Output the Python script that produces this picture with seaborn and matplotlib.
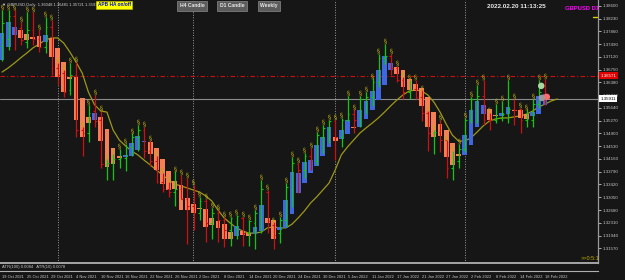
import numpy as np
import matplotlib
matplotlib.use("Agg")
import matplotlib.pyplot as plt
import seaborn as sns

# ---------------- data ----------------
bar_open = [1.3745,1.3765,1.3830,1.3795,1.3755,1.3790,1.3765,1.3740,1.3800,1.3680,
            1.3665,1.3615,1.3660,1.3500,1.3490,1.3555,1.3530,1.3400,1.3405,1.3415,
            1.3420,1.3450,1.3480,1.3500,1.3440,1.3410,1.3350,1.3330,1.3320,1.3330,
            1.3300,1.3280,1.3260,1.3295,1.3230,1.3260,1.3240,1.3210,1.3220,1.3245,
            1.3200,1.3230,1.3250,1.3320,1.3225,1.3200,1.3240,1.3330,1.3400,1.3385,
            1.3425,1.3410,1.3480,1.3500,1.3525,1.3480,1.3530,1.3545,1.3535,1.3590,
            1.3595,1.3640,1.3710,1.3715,1.3680,1.3645,1.3610,1.3620,1.3595,1.3550,
            1.3490,1.3495,1.3470,1.3390,1.3410,1.3445,1.3530,1.3590,1.3600,1.3530,
            1.3530,1.3535,1.3545,1.3560,1.3560,1.3530,1.3530,1.3575,1.3605]
bar_high = [1.3848,1.3848,1.3850,1.3813,1.3842,1.3842,1.3790,1.3828,1.3819,1.3694,
            1.3674,1.3694,1.3697,1.3510,1.3573,1.3602,1.3555,1.3415,1.3430,1.3445,
            1.3460,1.3490,1.3515,1.3510,1.3470,1.3425,1.3375,1.3350,1.3380,1.3370,
            1.3361,1.3341,1.3306,1.3300,1.3274,1.3268,1.3248,1.3248,1.3253,1.3248,
            1.3239,1.3268,1.3355,1.3326,1.3232,1.3248,1.3346,1.3422,1.3404,1.3433,
            1.3448,1.3494,1.3515,1.3530,1.3530,1.3535,1.3600,1.3560,1.3600,1.3610,
            1.3650,1.3720,1.3750,1.3720,1.3685,1.3655,1.3645,1.3645,1.3615,1.3555,
            1.3500,1.3530,1.3470,1.3440,1.3460,1.3535,1.3595,1.3630,1.3645,1.3550,
            1.3575,1.3585,1.3645,1.3590,1.3565,1.3560,1.3590,1.3645,1.3648]
bar_low = [1.3700,1.3732,1.3732,1.3747,1.3738,1.3747,1.3726,1.3723,1.3660,1.3630,
           1.3596,1.3601,1.3480,1.3425,1.3465,1.3509,1.3390,1.3355,1.3355,1.3390,
           1.3380,1.3425,1.3440,1.3420,1.3395,1.3345,1.3320,1.3305,1.3280,1.3300,
           1.3170,1.3210,1.3239,1.3175,1.3183,1.3175,1.3160,1.3165,1.3183,1.3163,
           1.3163,1.3155,1.3201,1.3201,1.3155,1.3172,1.3219,1.3277,1.3317,1.3361,
           1.3384,1.3398,1.3433,1.3462,1.3413,1.3450,1.3525,1.3490,1.3510,1.3545,
           1.3570,1.3625,1.3690,1.3660,1.3640,1.3590,1.3590,1.3590,1.3525,1.3440,
           1.3430,1.3435,1.3360,1.3355,1.3390,1.3435,1.3520,1.3520,1.3515,1.3500,
           1.3520,1.3525,1.3520,1.3515,1.3490,1.3510,1.3510,1.3565,1.3572]
bar_close = [1.3810,1.3830,1.3790,1.3760,1.3790,1.3765,1.3740,1.3800,1.3680,1.3660,
             1.3610,1.3660,1.3500,1.3490,1.3550,1.3525,1.3400,1.3405,1.3415,1.3420,
             1.3450,1.3480,1.3500,1.3440,1.3410,1.3350,1.3330,1.3320,1.3330,1.3300,
             1.3280,1.3260,1.3295,1.3230,1.3260,1.3240,1.3210,1.3245,1.3250,1.3200,
             1.3235,1.3260,1.3330,1.3235,1.3195,1.3240,1.3335,1.3405,1.3385,1.3425,
             1.3410,1.3485,1.3505,1.3525,1.3480,1.3530,1.3545,1.3530,1.3590,1.3595,
             1.3640,1.3710,1.3715,1.3680,1.3645,1.3610,1.3620,1.3595,1.3550,1.3490,
             1.3495,1.3470,1.3390,1.3410,1.3445,1.3530,1.3590,1.3600,1.3530,1.3528,
             1.3535,1.3545,1.3560,1.3558,1.3530,1.3532,1.3575,1.3610,1.3591]
ha_open = [1.3703,1.3742,1.3776,1.3790,1.3778,1.3770,1.3773,1.3755,1.3767,1.3738,
           1.3697,1.3654,1.3654,1.3592,1.3537,1.3528,1.3538,1.3504,1.3449,1.3425,
           1.3422,1.3425,1.3443,1.3464,1.3466,1.3448,1.3416,1.3380,1.3353,1.3340,
           1.3304,1.3286,1.3273,1.3272,1.3245,1.3235,1.3226,1.3204,1.3194,1.3208,
           1.3202,1.3197,1.3208,1.3245,1.3238,1.3211,1.3215,1.3256,1.3317,1.3346,
           1.3376,1.3395,1.3425,1.3452,1.3481,1.3474,1.3487,1.3509,1.3508,1.3533,
           1.3559,1.3586,1.3630,1.3673,1.3684,1.3673,1.3649,1.3632,1.3623,1.3597,
           1.3553,1.3516,1.3500,1.3461,1.3430,1.3428,1.3457,1.3508,1.3547,1.3560,
           1.3544,1.3542,1.3545,1.3557,1.3557,1.3546,1.3540,1.3546,1.3573]
ha_close = [1.3781,1.3813,1.3799,1.3767,1.3761,1.3764,1.3741,1.3775,1.3712,1.3654,
            1.3610,1.3648,1.3530,1.3481,1.3519,1.3549,1.3469,1.3394,1.3401,1.3418,
            1.3428,1.3461,1.3484,1.3468,1.3429,1.3383,1.3344,1.3326,1.3328,1.3268,
            1.3268,1.3259,1.3270,1.3219,1.3225,1.3216,1.3183,1.3184,1.3222,1.3196,
            1.3193,1.3219,1.3282,1.3230,1.3183,1.3220,1.3297,1.3378,1.3375,1.3407,
            1.3413,1.3456,1.3479,1.3509,1.3468,1.3500,1.3530,1.3506,1.3559,1.3585,
            1.3614,1.3674,1.3716,1.3694,1.3663,1.3625,1.3616,1.3613,1.3571,1.3509,
            1.3479,1.3483,1.3423,1.3399,1.3426,1.3486,1.3559,1.3585,1.3573,1.3528,
            1.3540,1.3548,1.3568,1.3556,1.3535,1.3533,1.3551,1.3599,1.3605]
ma_line = [1.3668,1.3680,1.3694,1.3709,1.3723,1.3738,1.3749,1.3761,1.3767,1.3767,
           1.3752,1.3726,1.3697,1.3665,1.3610,1.3573,1.3555,1.3552,1.3500,1.3471,
           1.3454,1.3439,1.3428,1.3413,1.3399,1.3384,1.3370,1.3355,1.3343,1.3338,
           1.3332,1.3326,1.3320,1.3309,1.3294,1.3268,1.3245,1.3230,1.3216,1.3207,
           1.3201,1.3201,1.3204,1.3216,1.3219,1.3216,1.3216,1.3227,1.3245,1.3265,
           1.3288,1.3306,1.3326,1.3346,1.3384,1.3428,1.3451,1.3471,1.3491,1.3506,
           1.3520,1.3535,1.3552,1.3570,1.3587,1.3602,1.3613,1.3616,1.3613,1.3602,
           1.3581,1.3552,1.3517,1.3485,1.3468,1.3468,1.3477,1.3494,1.3512,1.3526,
           1.3532,1.3535,1.3535,1.3538,1.3541,1.3546,1.3555,1.3567,1.3575,1.3584,
           1.3590]

date_tick_bars = list(range(0, 89, 4))
date_tick_labels = ["19 Oct 2021", "25 Oct 2021", "29 Oct 2021", "4 Nov 2021", "10 Nov 2021",
                    "16 Nov 2021", "22 Nov 2021", "26 Nov 2021", "2 Dec 2021", "8 Dec 2021",
                    "14 Dec 2021", "20 Dec 2021", "24 Dec 2021", "30 Dec 2021", "5 Jan 2022",
                    "11 Jan 2022", "17 Jan 2022", "21 Jan 2022", "27 Jan 2022", "2 Feb 2022",
                    "8 Feb 2022", "14 Feb 2022", "18 Feb 2022"]
month_sep_bars = [9, 31, 54, 75]
price_ticks = [1.38600, 1.38230, 1.37860, 1.37490, 1.37120, 1.36750, 1.36380, 1.36010,
               1.35640, 1.35270, 1.34900, 1.34530, 1.34160, 1.33790, 1.33420, 1.33050,
               1.32680, 1.32310, 1.31940, 1.31570]
level_red = 1.36571
last_price = 1.35911
level_yellow = 1.3828
pivot_bars = [87.4, 88.3, 87.5]
pivot_prices = [1.3628, 1.3596, 1.3593]
pivot_colors = ["#a8d8a0", "#ff6b6b", "#9a9a9a"]

# ---------------- style ----------------
BG = "#161616"
sns.set_theme(style="dark")
plt.rcParams["font.family"] = ["Liberation Sans", "DejaVu Sans"]
plt.rcParams["axes.facecolor"] = BG
plt.rcParams["figure.facecolor"] = BG

fig = plt.figure(figsize=(6.25, 2.8), dpi=100)
W, H = 625.0, 280.0
ax = fig.add_axes([0, 1 - 263 / H, 598 / W, 263 / H])
sub = fig.add_axes([0, 1 - 271 / H, 598 / W, 8 / H])
for a in (ax, sub):
    a.set_facecolor(BG)

x = np.arange(len(ha_open))
ho = np.array(ha_open); hc = np.array(ha_close)
up = hc >= ho
body_col = np.where(up, "#3f67e0", "#f77f56")
bottoms = np.minimum(ho, hc)
heights = np.maximum(np.abs(hc - ho), 0.00018)
ax.bar(x, heights, bottom=bottoms, width=0.78, color=body_col, linewidth=0, zorder=3)

bo = np.array(bar_open); bc = np.array(bar_close)
wick_col = np.where(bc >= bo, "#10c810", "#d01010")
ax.vlines(x + 0.05, bar_low, bar_high, colors=wick_col, linewidth=0.9, zorder=4)
ax.hlines(bo, x - 0.22, x + 0.05, colors=wick_col, linewidth=0.8, zorder=4)
ax.hlines(bc, x + 0.05, x + 0.32, colors=wick_col, linewidth=0.8, zorder=4)

# flags above highs
ax.scatter(x, np.array(bar_high) + 0.0008, marker=r"$\S$", s=16, color="#b8aa10",
           linewidths=0, zorder=5)

# moving average
sns.lineplot(x=np.arange(len(ma_line)), y=ma_line, ax=ax, color="#9c9818",
             linewidth=0.9, zorder=2)

# pivot circles
ax.scatter(pivot_bars, pivot_prices, s=22, c=pivot_colors, zorder=6, linewidths=0)

# separators and levels
for b in month_sep_bars:
    ax.axvline(b, color="#9a9a9a", linestyle=(0, (1, 1.6)), linewidth=0.7, zorder=1)
ax.axhline(level_red, color="#c81010", linestyle=(0, (4, 2, 1, 2)), linewidth=0.8, zorder=1)
ax.axhline(last_price, color="#8a8a8a", linewidth=0.8, zorder=1)
ax.plot([95.8, 96.5], [level_yellow, level_yellow], color="#e0d000", linewidth=1.0)

ax.set_xlim(-0.33, 96.6)
ax.set_ylim(1.3877 - 0.00029 * 263, 1.3877)
ax.grid(False)

# price axis on right
ax.yaxis.tick_right()
ax.set_yticks(price_ticks)
ax.set_yticklabels([f"{v:.5f}" for v in price_ticks])
ax.tick_params(axis="y", colors="#c8c8c8", labelsize=3.2, length=2, width=0.6, pad=1.5)
ax.tick_params(axis="x", bottom=False, labelbottom=False)
for s in ("top", "left", "bottom"):
    ax.spines[s].set_visible(False)
ax.spines["right"].set_color("#9a9a9a")
ax.spines["right"].set_linewidth(0.9)

# price boxes
ax.text(1.004, level_red, f"{level_red:.5f}", transform=ax.get_yaxis_transform(),
        fontsize=3.2, color="white", va="center", ha="left", zorder=10,
        bbox=dict(boxstyle="square,pad=0.3", fc="#e00000", ec="none"), clip_on=False)
ax.text(1.004, last_price, f"{last_price:.5f}", transform=ax.get_yaxis_transform(),
        fontsize=3.2, color="black", va="center", ha="left", zorder=10,
        bbox=dict(boxstyle="square,pad=0.3", fc="white", ec="none"), clip_on=False)

# subwindow
sub.set_xlim(-0.33, 96.6)
sub.set_ylim(0, 1)
sub.set_yticks([])
sub.set_xticks(date_tick_bars)
sub.set_xticklabels(date_tick_labels, ha="left")
sub.tick_params(axis="x", colors="#c8c8c8", labelsize=2.9, length=2, width=0.6,
                direction="out", pad=1.0)
for s in ("left", "right"):
    sub.spines[s].set_visible(False)
sub.spines["top"].set_color("#b0b0b0"); sub.spines["top"].set_linewidth(1.3)
sub.spines["bottom"].set_color("#b0b0b0"); sub.spines["bottom"].set_linewidth(0.8)
sub.text(0.004, 0.45, "ATR(100) 0.0084   ATR(10) 0.0078", transform=sub.transAxes,
         fontsize=3.0, color="#c8c8c8", va="center", ha="left")

# header texts
fig.text(2 / W, 1 - 5 / H, "\u25bc GBPUSD,Daily  1.36048 1.36481 1.35721 1.35911",
         fontsize=3.0, color="#d0d0d0", va="center", ha="left")
fig.text(114 / W, 1 - 5 / H, "APB HA on/off", fontsize=3.4, color="#0010d0",
         fontweight="bold", va="center", ha="center",
         bbox=dict(boxstyle="square,pad=0.3", fc="#ffff00", ec="#c0c000", lw=0.4))
for cx, lab in [(192, "H4 Candle"), (232, "D1 Candle"), (269, "Weekly")]:
    fig.text(cx / W, 1 - 5.5 / H, lab, fontsize=3.6, color="#e8e8e8", fontweight="bold",
             va="center", ha="center",
             bbox=dict(boxstyle="square,pad=0.5", fc="#5c5c5c", ec="#8a8a8a", lw=0.5))
fig.text(516 / W, 1 - 6 / H, "2022.02.20 11:13:25", fontsize=4.6, color="#e8e8e8",
         fontweight="bold", va="center", ha="center")
fig.text(599 / W, 1 - 9 / H, "GBPUSD D1", fontsize=4.2, color="#ff00ff",
         fontweight="bold", va="center", ha="right")
fig.text(581 / W, 1 - 258 / H, ">>0:5:1", fontsize=4.0, color="#c0b000",
         va="center", ha="left")

fig.savefig("out.png", dpi=100, facecolor=BG)
